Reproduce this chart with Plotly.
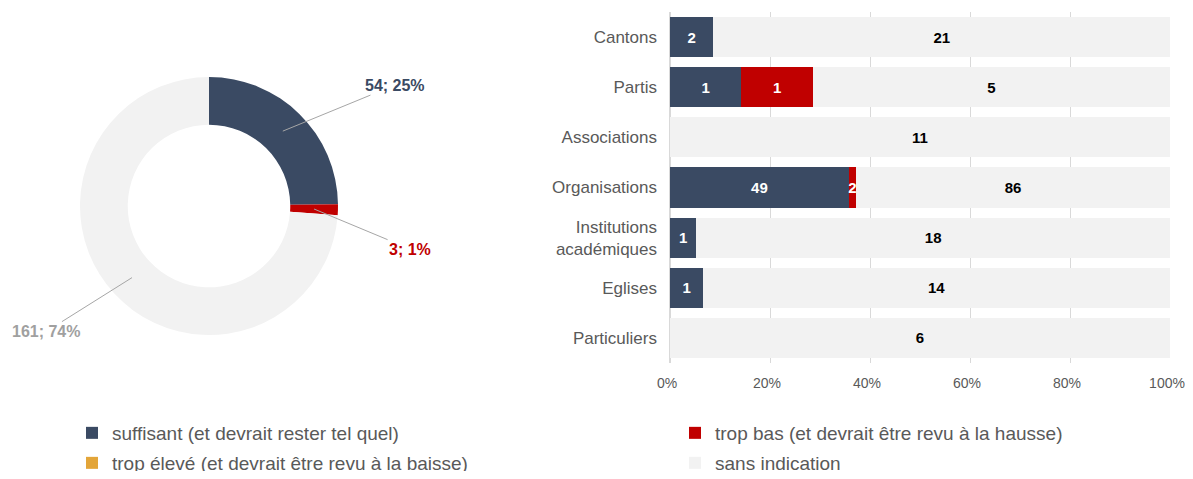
import math
import plotly.graph_objects as go

# ---------------- data ----------------
categories = ["Cantons", "Partis", "Associations", "Organisations",
              "Institutions<br>académiques", "Eglises", "Particuliers"]
suffisant = [2, 1, 0, 49, 1, 1, 0]
trop_bas = [0, 1, 0, 2, 0, 0, 0]
trop_eleve = [0, 0, 0, 0, 0, 0, 0]
sans_indication = [21, 5, 11, 86, 18, 14, 6]

series_names = ["suffisant (et devrait rester tel quel)",
                "trop bas (et devrait être revu à la hausse)",
                "trop élevé (et devrait être revu à la baisse)",
                "sans indication"]

pie_labels = ["suffisant", "trop bas", "sans indication"]
pie_values = [54, 3, 161]

# ---------------- style ----------------
OFF = 8                                   # page body margin of the html page
W, H = 1193 - 2 * OFF, 479 - 2 * OFF       # figure size (no page overflow)
NAVY = "#3A4A63"
RED = "#C00000"
ORANGE = "#E3A539"
LIGHT = "#F2F2F2"
GRAY_TXT = "#595959"
FONT = "Liberation Sans, Arial, sans-serif"


def px(x):
    return (x - OFF) / W


def py(y):
    return 1 - (y - OFF) / H


fig = go.Figure()

# Pie (donut)
pie_cx, pie_cy, pie_r = 209, 206, 129
hole = 0.63
fig.add_trace(go.Pie(
    labels=pie_labels, values=pie_values, hole=hole, sort=False,
    direction="clockwise", rotation=0,
    marker=dict(colors=[NAVY, RED, LIGHT], line=dict(width=0)),
    textinfo="none", hoverinfo="label+value+percent",
    domain=dict(x=[px(pie_cx - pie_r), px(pie_cx + pie_r)],
                y=[py(pie_cy + pie_r), py(pie_cy - pie_r)]),
    showlegend=False,
))

# leader-line annotations computed from data
total = sum(pie_values)
label_colors = [NAVY, RED, "#A0A0A0"]
label_offsets = [(112, -46), (96, 40), (-86, 54)]
r_mid = pie_r * (1 + hole) / 2
cum = 0
for v, col, (ax, ay) in zip(pie_values, label_colors, label_offsets):
    mid = (cum + v / 2) / total * 2 * math.pi
    cum += v
    hx = pie_cx + r_mid * math.sin(mid)
    hy = pie_cy - r_mid * math.cos(mid)
    pct = round(v / total * 100)
    fig.add_annotation(
        x=px(hx), y=py(hy), xref="paper", yref="paper",
        text=f"{v}; {pct}%", showarrow=True, arrowhead=0, arrowwidth=1,
        arrowcolor="#A6A6A6", ax=ax, ay=ay,
        font=dict(family=FONT, size=16, color=col, weight="bold"),
    )

# Bars
bar_series = [suffisant, trop_bas, trop_eleve, sans_indication]
bar_colors = [NAVY, RED, ORANGE, LIGHT]
text_colors = ["white", "white", "white", "black"]
legend_ids = ["legend", "legend2", "legend3", "legend4"]
for name, vals, col, tcol, lg in zip(series_names, bar_series, bar_colors, text_colors, legend_ids):
    fig.add_trace(go.Bar(
        y=categories, x=vals, name=name, orientation="h",
        marker=dict(color=col, line=dict(width=0)),
        text=[str(v) if v else "" for v in vals],
        textposition="inside", insidetextanchor="middle", textangle=0,
        constraintext="none",
        textfont=dict(family=FONT, size=15, color=tcol, weight="bold"),
        legend=lg, xaxis="x", yaxis="y",
    ))

# legend placement (one legend per series, 2x2 grid)
legend_pos = [(72, 433), (675, 433), (72, 463), (675, 463)]
legend_layout = {}
for lg, (lx, ly) in zip(legend_ids, legend_pos):
    legend_layout[lg] = dict(
        orientation="h", x=px(lx), y=py(ly), yanchor="middle",
        xanchor="left", itemwidth=30, bgcolor="rgba(0,0,0,0)",
        font=dict(size=19, color=GRAY_TXT),
    )

fig.update_layout(
    width=W, height=H,
    margin=dict(l=0, r=0, t=0, b=0, autoexpand=False),
    paper_bgcolor="white", plot_bgcolor="white",
    font=dict(family=FONT, color=GRAY_TXT),
    barmode="stack", barnorm="percent", bargap=0.2,
    xaxis=dict(domain=[px(670), px(1170)], range=[0, 100], dtick=20,
               ticksuffix="%", showgrid=True, gridcolor="#D9D9D9",
               zeroline=True, zerolinecolor="#D9D9D9", showline=False,
               tickfont=dict(size=14, color=GRAY_TXT), ticklabelstandoff=10,
               ticklabelshift=-3,
               fixedrange=True, automargin=False),
    yaxis=dict(domain=[py(363), py(12)], autorange="reversed",
               showgrid=False, tickfont=dict(size=17, color=GRAY_TXT),
               ticklabelstandoff=12, fixedrange=True, automargin=False),
    **legend_layout,
)

fig.write_html("out.html")
